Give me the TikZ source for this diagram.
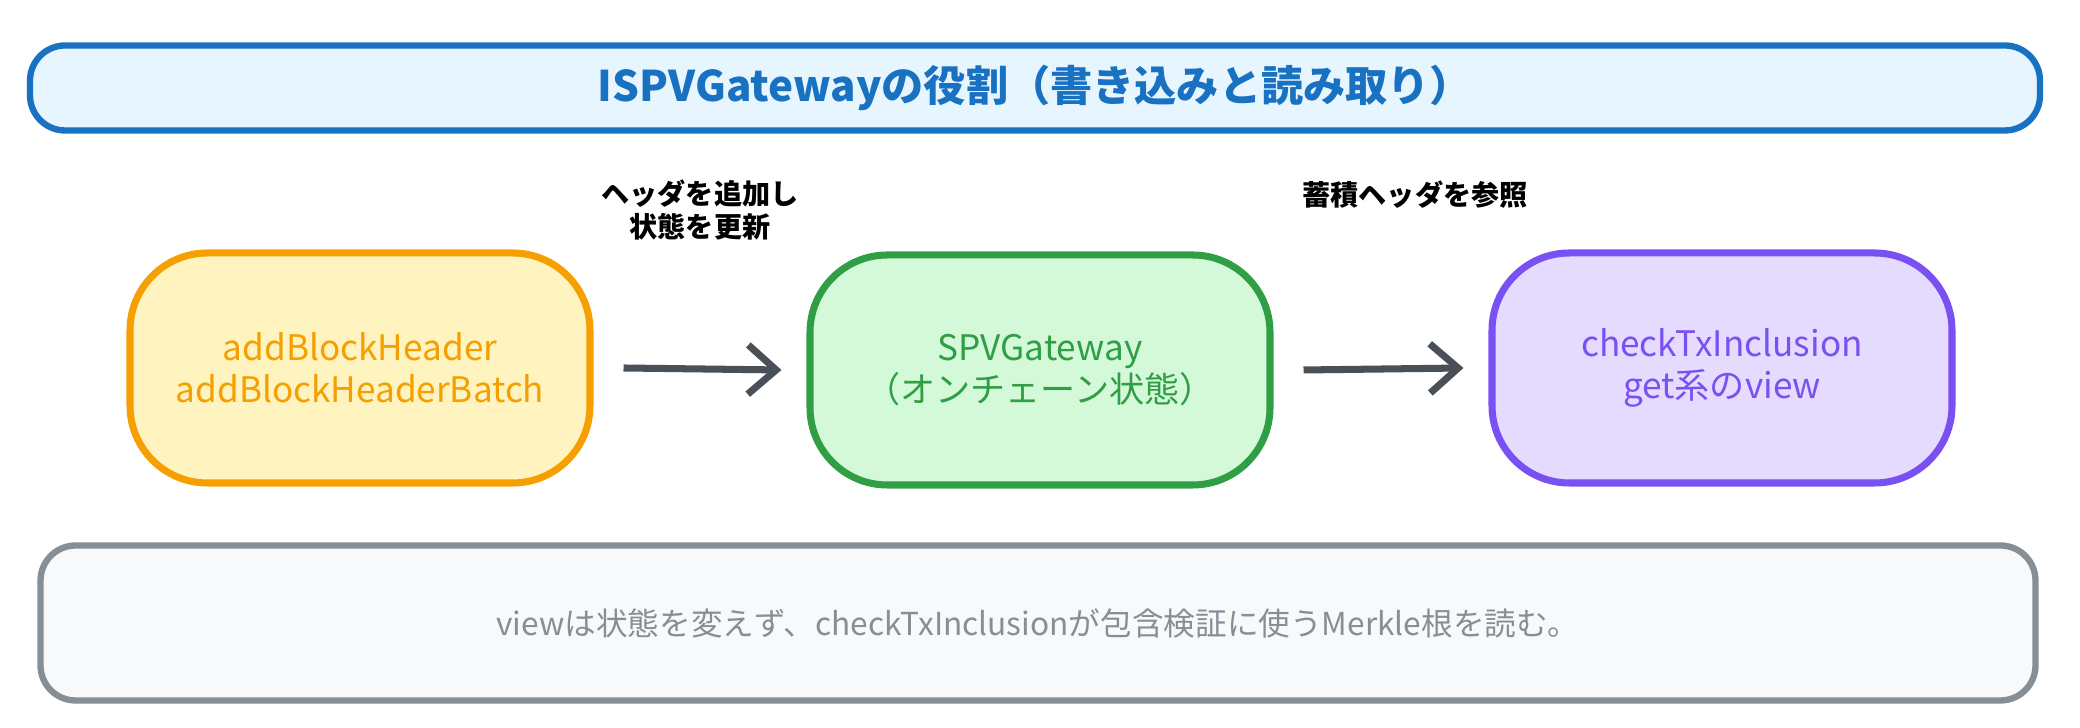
\documentclass[tikz,border=0pt]{standalone}
\usepackage{fontspec}
\setmainfont{Noto Sans CJK JP}
\usetikzlibrary{arrows.meta, positioning}
\definecolor{myblue}{RGB}{25,113,194}
\definecolor{mybluefill}{RGB}{231,245,255}
\definecolor{myorange}{RGB}{245,159,0}
\definecolor{myorangefill}{RGB}{255,243,191}
\definecolor{mygreen}{RGB}{47,158,68}
\definecolor{mygreenfill}{RGB}{211,249,216}
\definecolor{mypurple}{RGB}{121,80,242}
\definecolor{mypurplefill}{RGB}{229,219,255}
\definecolor{mygrey}{RGB}{134,142,150}
\definecolor{mygreyfill}{RGB}{248,249,250}
\definecolor{myink}{RGB}{73,80,87}
\tikzstyle{panel} = [draw, line width=1.8pt, rounded corners=10pt, align=center, inner sep=0]
\tikzstyle{card} = [draw, line width=2pt, rounded corners=22pt, align=center,
    minimum width=4.6cm, minimum height=2.3cm, font=\normalsize]
\tikzstyle{flow} = [-{Straight Barb[length=8pt,width=14pt]}, line width=2pt, myink]
\tikzstyle{note} = [font=\footnotesize\bfseries, align=center, text=black]

\begin{document}
\begin{tikzpicture}
\useasboundingbox (0,0) rectangle (20.8,7.28);

% title
\node[panel, draw=myblue, fill=mybluefill, text=myblue, font=\large\bfseries,
    minimum width=20.1cm, minimum height=0.85cm] (title) at (10.35,6.4)
    {ISPVGatewayの役割（書き込みと読み取り）};

% cards
\node[card, draw=myorange, fill=myorangefill, text=myorange] (add) at (3.6,3.6)
    {addBlockHeader\\addBlockHeaderBatch};
\node[card, draw=mygreen, fill=mygreenfill, text=mygreen] (gw) at (10.4,3.58)
    {SPVGateway\\（オンチェーン状態）};
\node[card, draw=mypurple, fill=mypurplefill, text=mypurple] (view) at (17.22,3.6)
    {checkTxInclusion\\get系のview};

% connectors
\draw[flow] ([xshift=3mm]add.east) -- ([xshift=-2.5mm]gw.west);
\draw[flow] ([xshift=3mm]gw.east) -- ([xshift=-2.5mm]view.west);
\node[note] (lab1) at (7.0,5.18) {ヘッダを追加し\\状態を更新};
\node[note] (lab2) at (14.15,5.33) {蓄積ヘッダを参照};

% footer
\node[panel, draw=mygrey, fill=mygreyfill, text=mygrey, font=\small,
    minimum width=19.95cm, minimum height=1.55cm] (foot) at (10.38,1.05)
    {viewは状態を変えず、checkTxInclusionが包含検証に使うMerkle根を読む。};
\end{tikzpicture}
\end{document}
